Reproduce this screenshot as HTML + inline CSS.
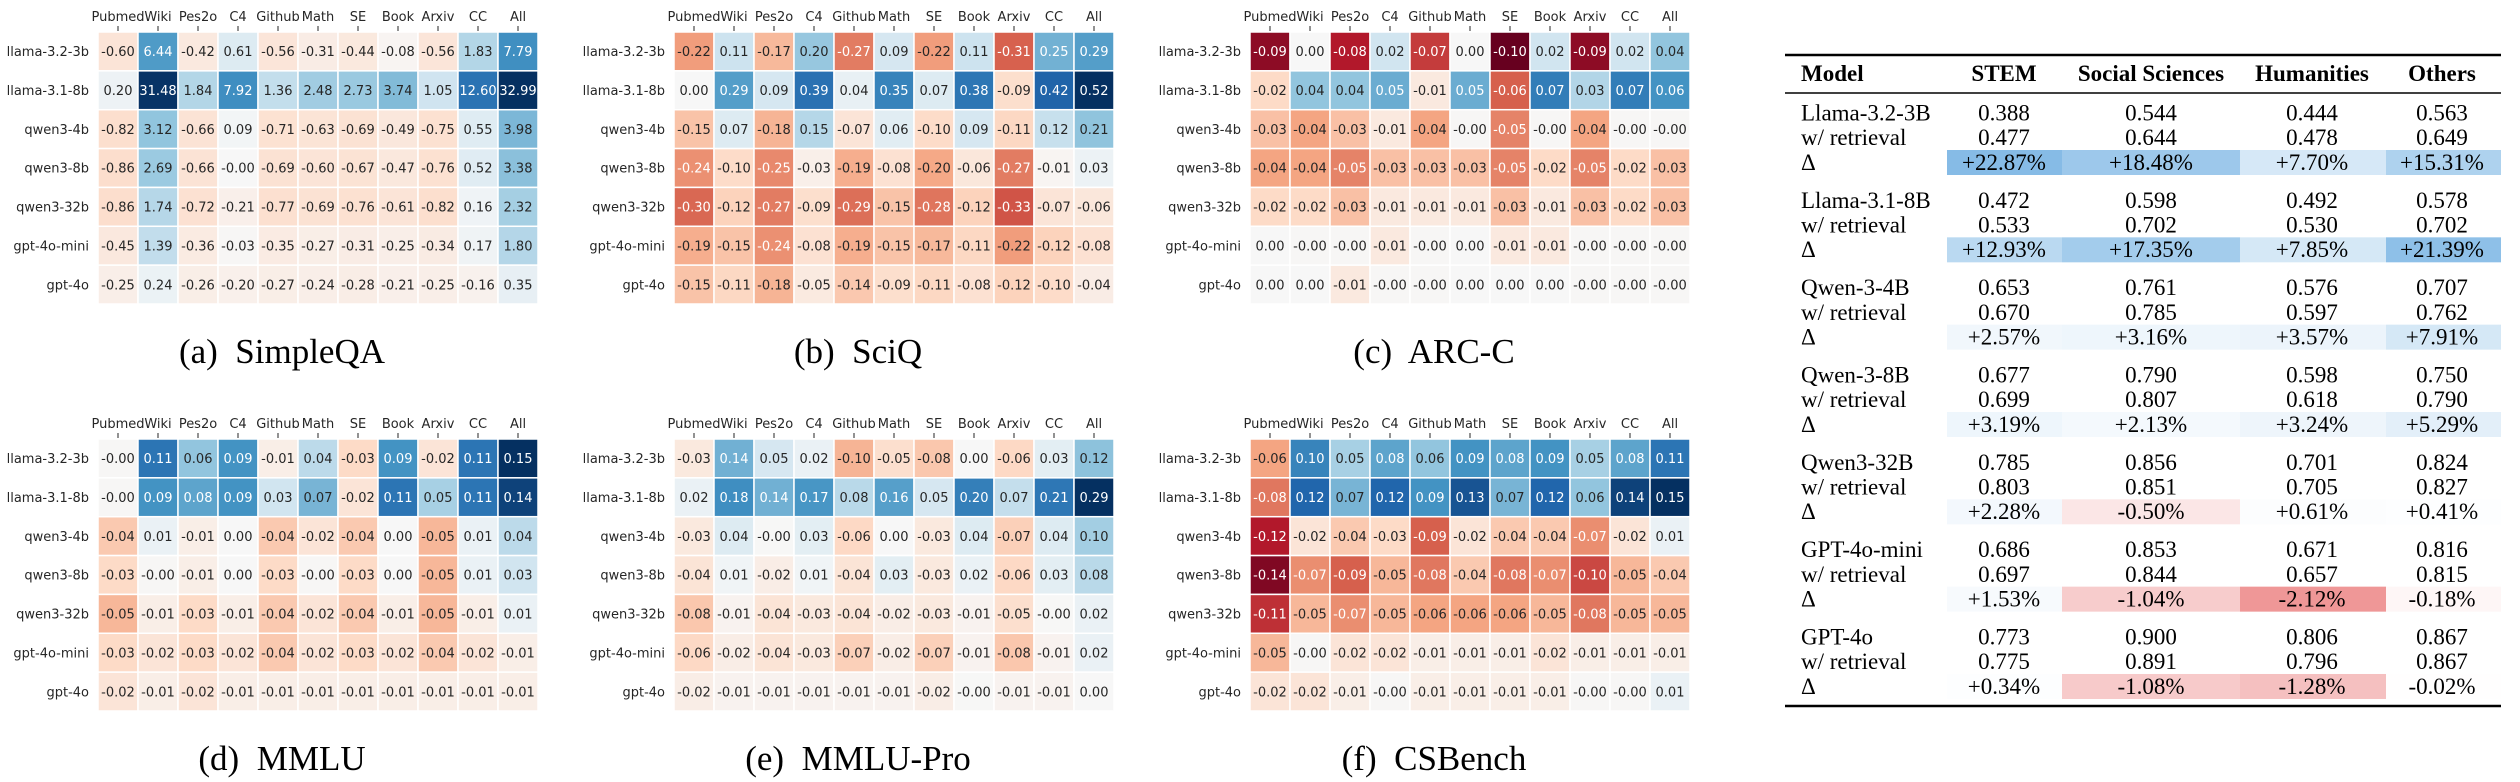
<!DOCTYPE html>
<html><head><meta charset="utf-8">
<style>
html,body{margin:0;padding:0;background:#fff;}
svg{display:block;}
.lab{font-family:"DejaVu Sans",sans-serif;font-size:13px;fill:#262626;}
.cap{font-family:"Liberation Serif",serif;font-size:35px;fill:#000;white-space:pre;}
.tb{font-family:"Liberation Serif",serif;font-size:23px;fill:#000;}
.tbh{font-family:"Liberation Serif",serif;font-size:23px;font-weight:bold;fill:#000;}
</style></head>
<body>
<svg id="fig" width="2520" height="782" viewBox="0 0 2520 782" xmlns="http://www.w3.org/2000/svg"></svg>
<script>
const columns = ["Pubmed","Wiki","Pes2o","C4","Github","Math","SE","Book","Arxiv","CC","All"];
const models = ["llama-3.2-3b","llama-3.1-8b","qwen3-4b","qwen3-8b","qwen3-32b","gpt-4o-mini","gpt-4o"];
const simpleqa = [
 [-0.60,6.44,-0.42,0.61,-0.56,-0.31,-0.44,-0.08,-0.56,1.83,7.79],
 [0.20,31.48,1.84,7.92,1.36,2.48,2.73,3.74,1.05,12.60,32.99],
 [-0.82,3.12,-0.66,0.09,-0.71,-0.63,-0.69,-0.49,-0.75,0.55,3.98],
 [-0.86,2.69,-0.66,-0.001,-0.69,-0.60,-0.67,-0.47,-0.76,0.52,3.38],
 [-0.86,1.74,-0.72,-0.21,-0.77,-0.69,-0.76,-0.61,-0.82,0.16,2.32],
 [-0.45,1.39,-0.36,-0.03,-0.35,-0.27,-0.31,-0.25,-0.34,0.17,1.80],
 [-0.25,0.24,-0.26,-0.20,-0.27,-0.24,-0.28,-0.21,-0.25,-0.16,0.35]];
const sciq = [
 [-0.22,0.11,-0.17,0.20,-0.27,0.09,-0.22,0.11,-0.31,0.25,0.29],
 [0.00,0.29,0.09,0.39,0.04,0.35,0.07,0.38,-0.09,0.42,0.52],
 [-0.15,0.07,-0.18,0.15,-0.07,0.06,-0.10,0.09,-0.11,0.12,0.21],
 [-0.24,-0.10,-0.25,-0.03,-0.19,-0.08,-0.20,-0.06,-0.27,-0.01,0.03],
 [-0.30,-0.12,-0.27,-0.09,-0.29,-0.15,-0.28,-0.12,-0.33,-0.07,-0.06],
 [-0.19,-0.15,-0.24,-0.08,-0.19,-0.15,-0.17,-0.11,-0.22,-0.12,-0.08],
 [-0.15,-0.11,-0.18,-0.05,-0.14,-0.09,-0.11,-0.08,-0.12,-0.10,-0.04]];
const arcc = [
 [-0.09,0.00,-0.08,0.02,-0.07,0.00,-0.10,0.02,-0.09,0.02,0.04],
 [-0.02,0.04,0.04,0.05,-0.01,0.05,-0.06,0.07,0.03,0.07,0.06],
 [-0.03,-0.04,-0.03,-0.01,-0.04,-0.001,-0.05,-0.001,-0.04,-0.001,-0.001],
 [-0.04,-0.04,-0.05,-0.03,-0.03,-0.03,-0.05,-0.02,-0.05,-0.02,-0.03],
 [-0.02,-0.02,-0.03,-0.01,-0.01,-0.01,-0.03,-0.01,-0.03,-0.02,-0.03],
 [0.00,-0.001,-0.001,-0.01,-0.001,0.00,-0.01,-0.01,-0.001,-0.001,-0.001],
 [0.00,0.00,-0.01,-0.001,-0.001,0.00,0.00,0.00,-0.001,-0.001,-0.001]];
const mmlu = [
 [-0.001,0.11,0.06,0.09,-0.01,0.04,-0.03,0.09,-0.02,0.11,0.15],
 [-0.001,0.09,0.08,0.09,0.03,0.07,-0.02,0.11,0.05,0.11,0.14],
 [-0.04,0.01,-0.01,0.00,-0.04,-0.02,-0.04,0.00,-0.05,0.01,0.04],
 [-0.03,-0.001,-0.01,0.00,-0.03,-0.001,-0.03,0.00,-0.05,0.01,0.03],
 [-0.05,-0.01,-0.03,-0.01,-0.04,-0.02,-0.04,-0.01,-0.05,-0.01,0.01],
 [-0.03,-0.02,-0.03,-0.02,-0.04,-0.02,-0.03,-0.02,-0.04,-0.02,-0.01],
 [-0.02,-0.01,-0.02,-0.01,-0.01,-0.01,-0.01,-0.01,-0.01,-0.01,-0.01]];
const mmlupro = [
 [-0.03,0.14,0.05,0.02,-0.10,-0.05,-0.08,0.00,-0.06,0.03,0.12],
 [0.02,0.18,0.14,0.17,0.08,0.16,0.05,0.20,0.07,0.21,0.29],
 [-0.03,0.04,-0.001,0.03,-0.06,0.00,-0.03,0.04,-0.07,0.04,0.10],
 [-0.04,0.01,-0.02,0.01,-0.04,0.03,-0.03,0.02,-0.06,0.03,0.08],
 [-0.08,-0.01,-0.04,-0.03,-0.04,-0.02,-0.03,-0.01,-0.05,-0.001,0.02],
 [-0.06,-0.02,-0.04,-0.03,-0.07,-0.02,-0.07,-0.01,-0.08,-0.01,0.02],
 [-0.02,-0.01,-0.01,-0.01,-0.01,-0.01,-0.02,-0.001,-0.01,-0.01,0.00]];
const csbench = [
 [-0.06,0.10,0.05,0.08,0.06,0.09,0.08,0.09,0.05,0.08,0.11],
 [-0.08,0.12,0.07,0.12,0.09,0.13,0.07,0.12,0.06,0.14,0.15],
 [-0.12,-0.02,-0.04,-0.03,-0.09,-0.02,-0.04,-0.04,-0.07,-0.02,0.01],
 [-0.14,-0.07,-0.09,-0.05,-0.08,-0.04,-0.08,-0.07,-0.10,-0.05,-0.04],
 [-0.11,-0.05,-0.07,-0.05,-0.06,-0.06,-0.06,-0.05,-0.08,-0.05,-0.05],
 [-0.05,-0.001,-0.02,-0.02,-0.01,-0.01,-0.01,-0.02,-0.01,-0.01,-0.01],
 [-0.02,-0.02,-0.01,-0.001,-0.01,-0.01,-0.01,-0.01,-0.001,-0.001,0.01]];
const panelTitles = ["(a)  SimpleQA","(b)  SciQ","(c)  ARC-C","(d)  MMLU","(e)  MMLU-Pro","(f)  CSBench"];
const panelScales = ["log","linear","linear","linear","linear","linear"];

const tableModels = ["Llama-3.2-3B","Llama-3.1-8B","Qwen-3-4B","Qwen-3-8B","Qwen3-32B","GPT-4o-mini","GPT-4o"];
const tableHeaders = ["STEM","Social Sciences","Humanities","Others"];
const baseScores = [[0.388,0.544,0.444,0.563],[0.472,0.598,0.492,0.578],[0.653,0.761,0.576,0.707],[0.677,0.790,0.598,0.750],[0.785,0.856,0.701,0.824],[0.686,0.853,0.671,0.816],[0.773,0.900,0.806,0.867]];
const retrievalScores = [[0.477,0.644,0.478,0.649],[0.533,0.702,0.530,0.702],[0.670,0.785,0.597,0.762],[0.699,0.807,0.618,0.790],[0.803,0.851,0.705,0.827],[0.697,0.844,0.657,0.815],[0.775,0.891,0.796,0.867]];
const deltaPct = [[22.87,18.48,7.70,15.31],[12.93,17.35,7.85,21.39],[2.57,3.16,3.57,7.91],[3.19,2.13,3.24,5.29],[2.28,-0.50,0.61,0.41],[1.53,-1.04,-2.12,-0.18],[0.34,-1.08,-1.28,-0.02]];

const NS="http://www.w3.org/2000/svg";
const svg=document.getElementById('fig');
function mk(tag,attrs,parent){const e=document.createElementNS(NS,tag);for(const k in attrs)e.setAttribute(k,attrs[k]);(parent||svg).appendChild(e);return e;}
const RDBU=["#67001f","#b2182b","#d6604d","#f4a582","#fddbc7","#f7f7f7","#d1e5f0","#92c5de","#4393c3","#2166ac","#053061"];
function hex(h){return [parseInt(h.slice(1,3),16),parseInt(h.slice(3,5),16),parseInt(h.slice(5,7),16)];}
function cmap(p){p=Math.max(0,Math.min(1,p));const s=p*10,i=Math.min(9,Math.floor(s)),f=s-i;const a=hex(RDBU[i]),b=hex(RDBU[i+1]);return a.map((v,k)=>Math.round(v+(b[k]-v)*f));}
function lum(c){const l=c.map(v=>{v/=255;return v<=0.03928?v/12.92:Math.pow((v+0.055)/1.055,2.4);});return 0.2126*l[0]+0.7152*l[1]+0.0722*l[2];}
function fmt(v){return v.toFixed(2);}

const panels=[simpleqa,sciq,arcc,mmlu,mmlupro,csbench];
const W=440,H=272,nC=columns.length,nR=models.length;
panels.forEach((data,pi)=>{
  const x0=98+576*(pi%3), y0=pi<3?32:439;
  const g=mk('g',{});
  
  
  const M=Math.max(...data.flat().map(Math.abs));
  const cw=W/nC, rh=H/nR;
  const xS=c=>x0+c*cw, yS=r=>y0+r*rh;
  const norm=v=>panelScales[pi]==="log"?Math.sign(v)*Math.log(1+Math.abs(v))/Math.log(1+M):v/M;
  columns.forEach((cn,c)=>{
    const t=mk('text',{x:xS(c)+cw/2,y:y0-11,'text-anchor':'middle',class:'lab'},g);t.textContent=cn;
    
    
    const tk=mk('line',{x1:xS(c)+cw/2,x2:xS(c)+cw/2,y1:y0-6,y2:y0-1,stroke:'#262626','stroke-width':1},g);
    
    
  });
  models.forEach((m,r)=>{
    const t=mk('text',{x:x0-9,y:yS(r)+rh/2+4.7,'text-anchor':'end',class:'lab'},g);t.textContent=m;
    
    
    data[r].forEach((v,c)=>{
      const col=cmap(0.5+0.5*norm(v));
      const rc=mk('rect',{x:xS(c),y:yS(r),width:cw,height:rh,fill:`rgb(${col})`,stroke:'#fff','stroke-width':1.5},g);
      
      
      const tx=mk('text',{x:xS(c)+cw/2,y:yS(r)+rh/2+4.7,'text-anchor':'middle',class:'lab',fill:lum(col)>0.408?'#262626':'#ffffff'},g);
      tx.style.fill=lum(col)>0.408?'#262626':'#ffffff';
      tx.textContent=fmt(v);
      
      
    });
  });
  const cap=mk('text',{x:x0+184,y:y0+H+59,'text-anchor':'middle',class:'cap'},g);cap.textContent=panelTitles[pi];
  
  
});

// Table
const tg=mk('g',{});


const TL=1785,TR=2501;
const colCenters=[2004,2151,2312,2442];
const shadeEdges=[1947,2062,2240,2386,2501];
function rule(y,w,name){const l=mk('line',{x1:TL,x2:TR,y1:y,y2:y,stroke:'#000','stroke-width':w},tg);}
rule(55,2.5,'top-rule');rule(93,1.5,'header-rule');rule(706,2.5,'bottom-rule');
const h0=mk('text',{x:1801,y:81,class:'tbh'},tg);h0.textContent="Model";


tableHeaders.forEach((h,i)=>{const t=mk('text',{x:colCenters[i],y:81,'text-anchor':'middle',class:'tbh'},tg);t.textContent=h;
  
  });
function shade(v){
  if(v>=0){const t=Math.min(1,v/23);const a=[255,255,255],b=[133,187,230];return `rgb(${a.map((x,k)=>Math.round(x+(b[k]-x)*t))})`;}
  const t=Math.min(1,-v/2.2);const a=[255,255,255],b=[238,147,147];return `rgb(${a.map((x,k)=>Math.round(x+(b[k]-x)*t))})`;
}
tableModels.forEach((m,i)=>{
  const yc=113+87.33*i;
  const rows=[[m,baseScores[i].map(v=>v.toFixed(3))],["w/ retrieval",retrievalScores[i].map(v=>v.toFixed(3))],["Δ",deltaPct[i].map(v=>(v>=0?"+":"")+v.toFixed(2)+"%")]];
  deltaPct[i].forEach((v,j)=>{
    const r=mk('rect',{x:shadeEdges[j],y:yc+49.5-12.5,width:shadeEdges[j+1]-shadeEdges[j],height:25,fill:shade(v)},tg);
    
    
  });
  rows.forEach((row,k)=>{
    const y=yc+k*24.7+7.5;
    const t=mk('text',{x:1801,y:y,class:'tb'},tg);t.textContent=row[0];
    
    
    row[1].forEach((s,j)=>{const c=mk('text',{x:colCenters[j],y:y,'text-anchor':'middle',class:'tb'},tg);c.textContent=s;
      
      });
  });
});
</script>
</body></html>
